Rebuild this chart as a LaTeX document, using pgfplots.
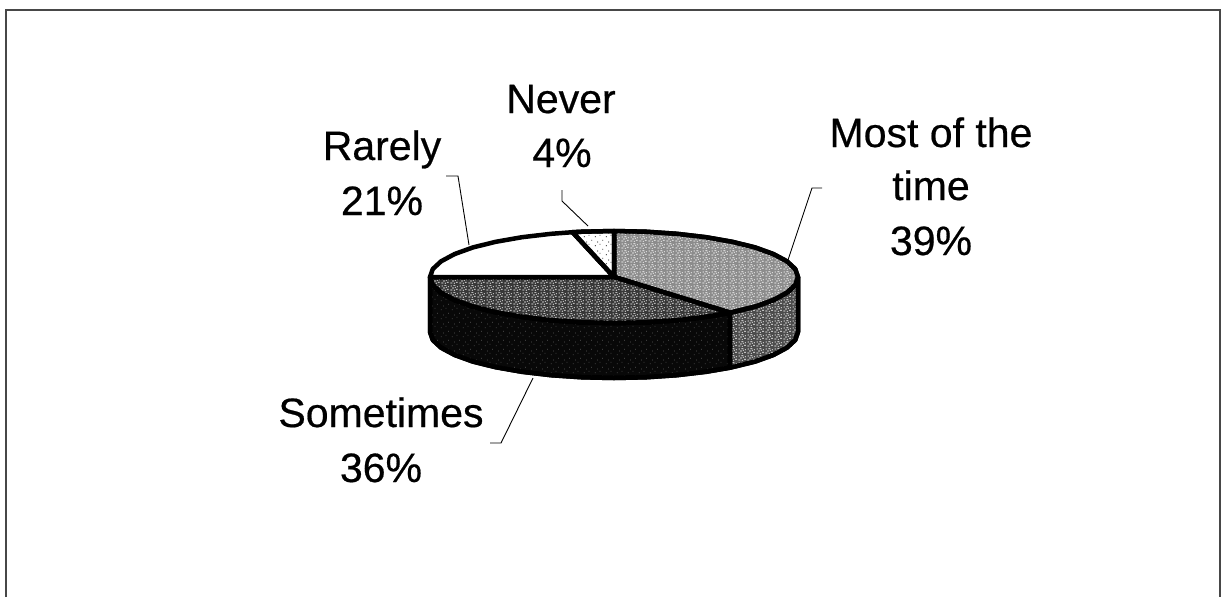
\documentclass[border=0pt]{standalone}
\usepackage{fontspec}
\setmainfont{Liberation Sans}
\newfontfamily\lblfont[FakeBold=0.5]{Liberation Sans}
\usepackage{pgfplots}
\pgfplotsset{compat=1.18}
\usetikzlibrary{patterns}

% fine irregular speckle used as a halftone on the slices
\pgfdeclarepatternformonly{speckle}{\pgfqpoint{0pt}{0pt}}{\pgfqpoint{9pt}{7pt}}{\pgfqpoint{9pt}{7pt}}{
  \pgfpathrectangle{\pgfqpoint{0.4pt}{0.6pt}}{\pgfqpoint{2.2pt}{0.9pt}}
  \pgfpathrectangle{\pgfqpoint{4.2pt}{0.2pt}}{\pgfqpoint{1pt}{1.2pt}}
  \pgfpathrectangle{\pgfqpoint{6.6pt}{1.6pt}}{\pgfqpoint{1.9pt}{0.8pt}}
  \pgfpathrectangle{\pgfqpoint{2.4pt}{3.0pt}}{\pgfqpoint{1.8pt}{0.9pt}}
  \pgfpathrectangle{\pgfqpoint{5.4pt}{3.6pt}}{\pgfqpoint{0.9pt}{1.1pt}}
  \pgfpathrectangle{\pgfqpoint{7.6pt}{4.4pt}}{\pgfqpoint{1.1pt}{0.8pt}}
  \pgfpathrectangle{\pgfqpoint{0.6pt}{5.2pt}}{\pgfqpoint{1.5pt}{0.8pt}}
  \pgfpathrectangle{\pgfqpoint{3.8pt}{5.6pt}}{\pgfqpoint{2.2pt}{0.8pt}}
  \pgfusepath{fill}
}
\pgfdeclarepatternformonly{sparse}{\pgfqpoint{0pt}{0pt}}{\pgfqpoint{11pt}{9pt}}{\pgfqpoint{11pt}{9pt}}{
  \pgfpathrectangle{\pgfqpoint{1pt}{1pt}}{\pgfqpoint{0.9pt}{0.9pt}}
  \pgfpathrectangle{\pgfqpoint{6pt}{2.5pt}}{\pgfqpoint{0.9pt}{0.9pt}}
  \pgfpathrectangle{\pgfqpoint{3.4pt}{5pt}}{\pgfqpoint{0.9pt}{0.9pt}}
  \pgfpathrectangle{\pgfqpoint{8.8pt}{7pt}}{\pgfqpoint{0.9pt}{0.9pt}}
  \pgfusepath{fill}
}

\tikzset{
  wall/.style={draw=black, line width=4.5pt, line join=round, line cap=round},
  leader/.style={draw=black, line width=0.9pt, line join=miter},
  frame/.style={draw=black!72, line width=2pt, line cap=butt},
  lbl/.style={font=\lblfont\fontsize{41}{54}\selectfont, anchor=base, inner sep=0pt, text=black},
}

\begin{document}
\begin{tikzpicture}
\begin{axis}[
  width=1221pt, height=597pt, scale only axis,
  xmin=0, xmax=1221, ymin=0, ymax=597, y dir=reverse,
  hide axis, clip=false,
]
% keep the whole plot area in the bounding box
\path (axis cs:0,0) rectangle (axis cs:1221,597);

% chart frame
\addplot[frame] coordinates {(6,597) (6,9.5) (1219.8,9.5) (1219.8,597)};

% front wall of the Sometimes slice
\addplot[wall, fill=black!97, postaction={pattern=sparse, pattern color=black!65}] coordinates {
  (430,277) (432.8,285) (441.1,292.7) (454.7,300) (473,306.6) (495.7,312.2) (522,316.8)
  (551.1,320.2) (582,322.3) (614,323) (646,322.3) (676.9,320.2) (706,316.8) (730,312.7)
  (730,367.7) (706,371.8) (676.9,375.2) (646,377.3) (614,378) (582,377.3) (551.1,375.2)
  (522,371.8) (495.7,367.2) (473,361.6) (454.7,355) (441.1,347.7) (432.8,340) (430,332)
} -- cycle;
% right wall of the Most of the time slice
\addplot[wall, fill=black!70, postaction={pattern=speckle, pattern color=white}] coordinates {
  (730,312.7) (755,306.6) (773.3,300) (786.9,292.7) (795.2,285) (798,277)
  (798,332) (795.2,340) (786.9,347.7) (773.3,355) (755,361.6) (730,367.7)
} -- cycle;

% top faces, clockwise from twelve o'clock: 39, 36, 21, 4 per cent
\addplot[wall, fill=black!45, postaction={pattern=speckle, pattern color=white}] coordinates {
  (614,277) (614,231) (646,231.7) (676.9,233.8) (706,237.2) (732.3,241.8) (755,247.4)
  (773.3,254) (786.9,261.3) (795.2,269) (798,277) (795.2,285) (786.9,292.7) (773.3,300)
  (755,306.6) (730,312.7)
} -- cycle;
\addplot[wall, fill=black!78, postaction={pattern=speckle, pattern color=white}] coordinates {
  (614,277) (730,312.7) (706,316.8) (676.9,320.2) (646,322.3) (614,323) (582,322.3)
  (551.1,320.2) (522,316.8) (495.7,312.2) (473,306.6) (454.7,300) (441.1,292.7)
  (432.8,285) (430,277)
} -- cycle;
\addplot[wall, fill=white] coordinates {
  (614,277) (430,277) (432.8,269) (441.1,261.3) (454.7,254) (473,247.4) (495.7,241.8)
  (522,237.2) (551.1,233.8) (572.6,232.2)
} -- cycle;
\addplot[wall, fill=white, postaction={pattern=sparse, pattern color=black}] coordinates {
  (614,277) (572.6,232.2) (582,231.7) (614,231)
} -- cycle;

% leader lines
\addplot[leader] coordinates {(446,176) (458,176) (469,245)};
\addplot[leader] coordinates {(562,190) (562,201) (588,226)};
\addplot[leader] coordinates {(788,260) (812,188) (822,188)};
\addplot[leader] coordinates {(533,378) (501,443) (490,443)};

% slice labels
\node[lbl] at (axis cs:561,113) {Never};
\node[lbl] at (axis cs:562,167) {4\%};
\node[lbl] at (axis cs:382,160) {Rarely};
\node[lbl] at (axis cs:382,215) {21\%};
\node[lbl] at (axis cs:931,147) {Most of the};
\node[lbl] at (axis cs:931,200) {time};
\node[lbl] at (axis cs:931,255) {39\%};
\node[lbl] at (axis cs:381,427) {Sometimes};
\node[lbl] at (axis cs:381,482) {36\%};
\end{axis}
\end{tikzpicture}
\end{document}
